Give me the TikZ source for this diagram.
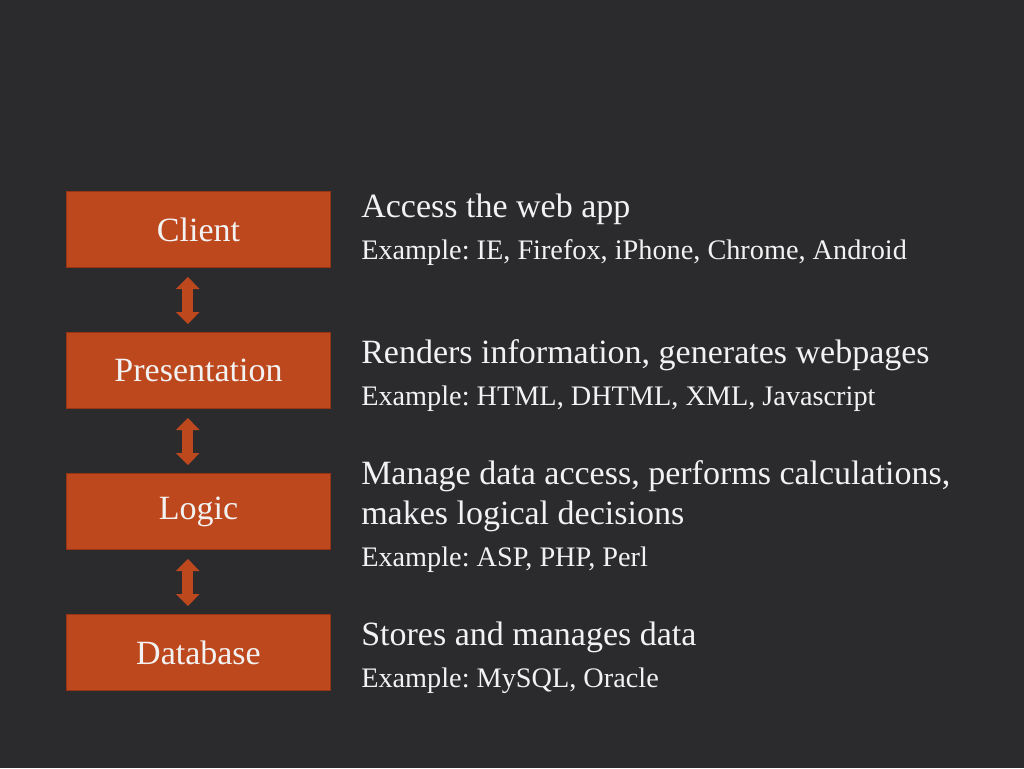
\documentclass[tikz,border=0pt]{standalone}
\usepackage{fontspec}
\setmainfont{Liberation Serif}
\usetikzlibrary{arrows.meta,positioning}
\definecolor{slate}{RGB}{43,43,46}
\definecolor{rust}{RGB}{190,72,30}
\definecolor{rustdark}{RGB}{150,52,20}
\definecolor{chalk}{RGB}{242,242,242}
\frenchspacing
\tikzset{
    %Define the tier boxes, texts and links
    tier/.style={draw=rustdark, line width=0.75pt, fill=rust, text=chalk, minimum width=198pt, minimum height=57pt, inner sep=0pt, font=\fontsize{25.5}{30}\selectfont},
    headline/.style={anchor=base west, inner sep=0pt, text=chalk, align=left, font=\fontsize{25.5}{30}\selectfont},
    sample/.style={anchor=base west, inner sep=0pt, text=chalk, font=\fontsize{21.2}{25}\selectfont},
    tipend/.tip={Triangle[width=17.25pt,length=9pt]},
    link/.style={rust, line width=8.25pt, shorten <=6.75pt, shorten >=6pt, tipend-tipend}
}

\begin{document}
\begin{tikzpicture}[x=0.75pt,y=-0.75pt]
    \useasboundingbox (0,0) rectangle (1024,768);
    \fill[slate] (0,0) rectangle (1024,768);
    \node[tier] (client) at (198.5,229.5) {Client};
    \node[tier,below=48pt of client] (present) {Presentation};
    \node[tier,below=48pt of present] (logic) {Logic};
    \node[tier,below=48pt of logic] (database) {Database};
    \foreach \a/\b in {client/present,present/logic,logic/database}{
        \draw[link] ([xshift=-8pt]\a.south) -- ([xshift=-8pt]\b.north);
    }
    \node[headline] (access) at (361,217) {Access the web app};
    \node[sample] (accessex) at (361,259) {Example: IE, Firefox, iPhone, Chrome, Android};
    \node[headline] (render) at (361,363) {Renders information, generates webpages};
    \node[sample] (renderex) at (361,405) {Example: HTML, DHTML, XML, Javascript};
    \node[headline] (manage) at (361,524) {Manage data access, performs calculations,\\makes logical decisions};
    \node[sample] (manageex) at (361,566) {Example: ASP, PHP, Perl};
    \node[headline] (store) at (361,645) {Stores and manages data};
    \node[sample] (storeex) at (361,687) {Example: MySQL, Oracle};
\end{tikzpicture}
\end{document}
